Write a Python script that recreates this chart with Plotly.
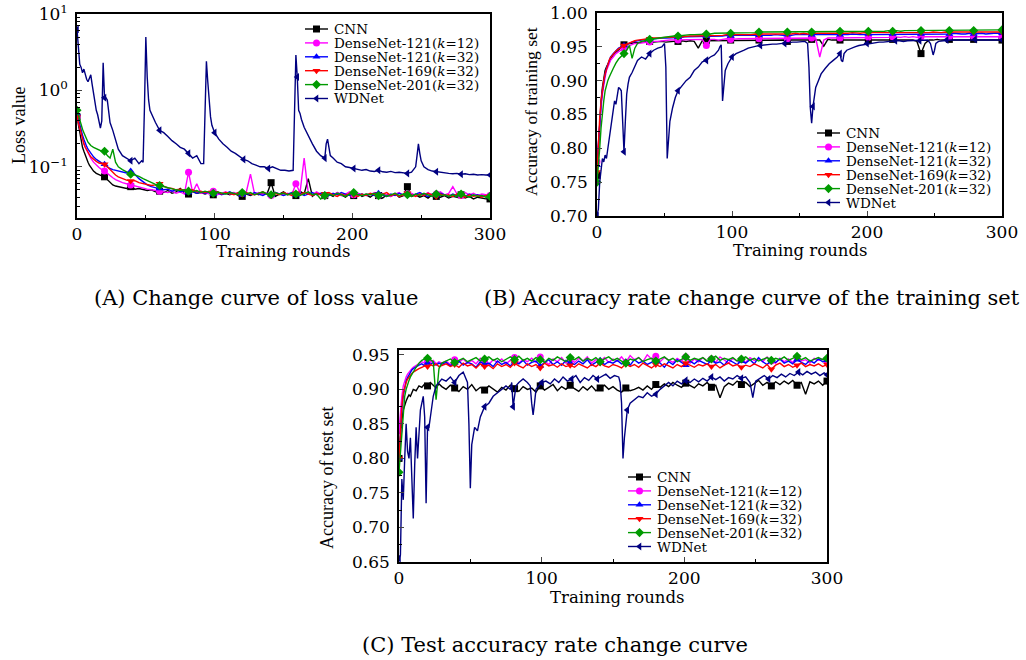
import plotly.graph_objects as go

# ---------------- shared x grid (training rounds) ----------------
ROUNDS = [0, 1, 2, 3, 4, 5, 6, 7, 8, 9, 10, 12, 14, 16, 18, 20, 22, 24, 26, 28, 30] + list(range(33, 301, 3))

NAMES = ["CNN", "DenseNet-121(<i>k</i>=12)", "DenseNet-121(<i>k</i>=32)",
         "DenseNet-169(<i>k</i>=32)", "DenseNet-201(<i>k</i>=32)", "WDNet"]

# ---------------- (A) loss value ----------------
cnn_loss = [0.45, 0.36, 0.28, 0.22, 0.18, 0.16, 0.14, 0.125, 0.115, 0.105, 0.098, 0.088, 0.082, 0.078, 0.076, 0.074, 0.068, 0.062, 0.058, 0.056, 0.055,
            0.053, 0.052, 0.055, 0.051, 0.052, 0.050, 0.049, 0.050, 0.047, 0.048,
            0.046, 0.049, 0.045, 0.047, 0.052, 0.046, 0.044, 0.047, 0.045, 0.046,
            0.044, 0.046, 0.043, 0.047, 0.044, 0.045, 0.043, 0.046, 0.042, 0.041,
            0.044, 0.042, 0.045, 0.043, 0.046, 0.044, 0.062, 0.041, 0.044, 0.047,
            0.043, 0.045, 0.042, 0.048, 0.044, 0.070, 0.041, 0.045, 0.043, 0.042,
            0.044, 0.041, 0.046, 0.043, 0.040, 0.044, 0.042, 0.045, 0.041, 0.043,
            0.040, 0.044, 0.042, 0.039, 0.043, 0.041, 0.045, 0.040, 0.042, 0.055,
            0.041, 0.043, 0.040, 0.042, 0.039, 0.043, 0.041, 0.040, 0.042, 0.039,
            0.041, 0.040, 0.043, 0.039, 0.041, 0.038, 0.040, 0.039, 0.038, 0.038]
d121k12_loss = [0.45, 0.38, 0.32, 0.27, 0.23, 0.2, 0.18, 0.165, 0.15, 0.14, 0.13, 0.115, 0.105, 0.098, 0.092, 0.088, 0.082, 0.076, 0.072, 0.068, 0.065,
                0.062, 0.06, 0.058, 0.056, 0.054, 0.053, 0.051, 0.05, 0.049, 0.048,
                0.047, 0.046, 0.048, 0.045, 0.047, 0.044, 0.085, 0.046, 0.06, 0.045,
                0.046, 0.044, 0.048, 0.043, 0.045, 0.047, 0.044, 0.046, 0.043, 0.045,
                0.047, 0.08, 0.044, 0.046, 0.043, 0.045, 0.042, 0.046, 0.044, 0.043,
                0.045, 0.043, 0.06, 0.046, 0.13, 0.045, 0.043, 0.047, 0.044, 0.042,
                0.045, 0.043, 0.046, 0.042, 0.044, 0.047, 0.043, 0.045, 0.042, 0.044,
                0.043, 0.046, 0.042, 0.045, 0.043, 0.041, 0.044, 0.046, 0.042, 0.044,
                0.045, 0.042, 0.044, 0.043, 0.046, 0.042, 0.044, 0.047, 0.043, 0.045,
                0.055, 0.044, 0.042, 0.046, 0.043, 0.045, 0.042, 0.044, 0.043, 0.042]
d121k32_loss = [0.5, 0.42, 0.35, 0.3, 0.26, 0.23, 0.2, 0.185, 0.17, 0.16, 0.15, 0.135, 0.125, 0.118, 0.112, 0.108, 0.1, 0.095, 0.092, 0.09, 0.088,
                0.085, 0.083, 0.088, 0.08, 0.07, 0.063, 0.058, 0.055, 0.053, 0.052,
                0.05, 0.051, 0.048, 0.05, 0.047, 0.049, 0.046, 0.048, 0.045, 0.047,
                0.045, 0.047, 0.044, 0.046, 0.043, 0.045, 0.047, 0.044, 0.045, 0.043,
                0.045, 0.043, 0.046, 0.044, 0.042, 0.045, 0.043, 0.046, 0.044, 0.042,
                0.044, 0.046, 0.043, 0.045, 0.042, 0.044, 0.046, 0.043, 0.045, 0.043,
                0.042, 0.045, 0.043, 0.046, 0.044, 0.042, 0.045, 0.043, 0.044, 0.042,
                0.044, 0.042, 0.045, 0.043, 0.041, 0.044, 0.042, 0.045, 0.043, 0.044,
                0.042, 0.044, 0.046, 0.043, 0.041, 0.044, 0.042, 0.045, 0.043, 0.041,
                0.044, 0.042, 0.043, 0.041, 0.044, 0.042, 0.043, 0.041, 0.042, 0.042]
d169_loss = [0.45, 0.38, 0.32, 0.27, 0.23, 0.2, 0.18, 0.165, 0.155, 0.145, 0.135, 0.125, 0.118, 0.112, 0.11, 0.108, 0.1, 0.092, 0.085, 0.078, 0.074,
             0.07, 0.067, 0.065, 0.066, 0.062, 0.06, 0.058, 0.057, 0.058, 0.06,
             0.056, 0.053, 0.052, 0.05, 0.051, 0.049, 0.048, 0.05, 0.047, 0.048,
             0.046, 0.048, 0.045, 0.047, 0.044, 0.046, 0.045, 0.043, 0.046, 0.044,
             0.046, 0.044, 0.043, 0.045, 0.047, 0.044, 0.042, 0.045, 0.043, 0.046,
             0.044, 0.042, 0.045, 0.043, 0.046, 0.044, 0.042, 0.045, 0.043, 0.044,
             0.046, 0.043, 0.041, 0.044, 0.042, 0.045, 0.043, 0.041, 0.044, 0.042,
             0.045, 0.043, 0.042, 0.044, 0.046, 0.042, 0.044, 0.041, 0.043, 0.045,
             0.043, 0.041, 0.044, 0.042, 0.045, 0.043, 0.041, 0.044, 0.042, 0.043,
             0.041, 0.044, 0.042, 0.04, 0.043, 0.041, 0.042, 0.04, 0.042, 0.041]
d201_loss = [0.55, 0.47, 0.4, 0.35, 0.31, 0.28, 0.25, 0.23, 0.21, 0.2, 0.19, 0.18, 0.172, 0.165, 0.16, 0.16, 0.14, 0.13, 0.17, 0.115, 0.1,
             0.092, 0.085, 0.08, 0.078, 0.075, 0.07, 0.066, 0.062, 0.059, 0.057,
             0.055, 0.053, 0.052, 0.05, 0.049, 0.05, 0.048, 0.047, 0.049, 0.046,
             0.048, 0.046, 0.045, 0.047, 0.045, 0.044, 0.046, 0.045, 0.043, 0.046,
             0.044, 0.046, 0.043, 0.045, 0.047, 0.044, 0.043, 0.046, 0.044, 0.045,
             0.043, 0.045, 0.044, 0.042, 0.045, 0.047, 0.043, 0.044, 0.038, 0.042,
             0.044, 0.042, 0.045, 0.043, 0.041, 0.044, 0.046, 0.043, 0.042, 0.044,
             0.043, 0.045, 0.042, 0.044, 0.041, 0.043, 0.045, 0.042, 0.044, 0.043,
             0.041, 0.044, 0.042, 0.045, 0.043, 0.041, 0.044, 0.042, 0.043, 0.041,
             0.043, 0.041, 0.044, 0.042, 0.04, 0.043, 0.041, 0.042, 0.04, 0.041]
# WDNet (round, loss)
wdnet_loss = [(0, 6.3), (1, 4.0), (2, 2.2), (3, 2.0), (4, 1.7), (5, 1.9), (6, 1.6), (7, 1.4), (8, 1.3), (9, 1.5), (10, 1.6),
              (11, 1.2), (12, 0.9), (13, 0.7), (14, 0.55), (15, 0.48), (16, 0.38), (17, 0.32), (18, 0.4), (19, 2.3), (20, 0.8),
              (21, 0.8), (22, 0.75), (23, 0.5), (24, 0.38), (26, 0.3), (28, 0.22), (30, 0.17), (33, 0.14), (36, 0.13), (39, 0.12),
              (42, 0.13), (45, 0.11), (47, 0.12), (48, 0.115), (49, 0.6), (50, 5.0), (51, 1.5), (52, 0.75), (53, 0.55), (55, 0.45),
              (57, 0.38), (60, 0.3), (63, 0.28), (66, 0.25), (69, 0.22), (72, 0.2), (75, 0.18), (78, 0.17), (81, 0.15), (84, 0.13),
              (87, 0.14), (90, 0.11), (92, 0.11), (93, 0.4), (94, 2.4), (95, 1.3), (96, 0.7), (97, 0.45), (98, 0.35), (100, 0.28),
              (103, 0.23), (106, 0.2), (109, 0.18), (112, 0.16), (115, 0.15), (118, 0.135), (121, 0.125), (124, 0.12), (127, 0.11),
              (130, 0.105), (133, 0.1), (136, 0.1), (139, 0.095), (142, 0.1), (145, 0.095), (148, 0.09), (151, 0.09), (154, 0.088),
              (157, 0.09), (158, 0.4), (159, 2.9), (160, 1.5), (161, 0.55), (162, 0.5), (163, 0.42), (165, 0.33), (168, 0.25),
              (171, 0.2), (174, 0.16), (177, 0.14), (180, 0.13), (181, 0.2), (182, 0.23), (183, 0.17), (184, 0.14), (186, 0.13),
              (189, 0.115), (192, 0.11), (195, 0.1), (198, 0.098), (201, 0.095), (204, 0.092), (207, 0.09), (210, 0.092),
              (213, 0.088), (216, 0.087), (219, 0.09), (222, 0.086), (225, 0.085), (228, 0.087), (231, 0.084), (234, 0.085),
              (237, 0.083), (240, 0.082), (243, 0.085), (246, 0.1), (247, 0.14), (248, 0.2), (249, 0.15), (250, 0.12), (252, 0.1),
              (255, 0.092), (258, 0.088), (261, 0.086), (264, 0.084), (267, 0.083), (270, 0.082), (273, 0.081), (276, 0.082),
              (279, 0.08), (282, 0.081), (285, 0.079), (288, 0.08), (291, 0.078), (294, 0.079), (297, 0.078), (300, 0.078)]

# ---------------- (B) training-set accuracy ----------------
cnn_train = [0.76, 0.8, 0.84, 0.87, 0.89, 0.905, 0.915, 0.92, 0.925, 0.93, 0.932, 0.938, 0.942, 0.946, 0.95, 0.953, 0.954, 0.955, 0.955, 0.956, 0.956,
             0.957, 0.957, 0.958, 0.957, 0.958, 0.958, 0.957, 0.958, 0.958, 0.958,
             0.959, 0.958, 0.959, 0.958, 0.948, 0.959, 0.959, 0.96, 0.959, 0.96,
             0.96, 0.959, 0.96, 0.96, 0.959, 0.96, 0.96, 0.96, 0.96, 0.96,
             0.96, 0.96, 0.959, 0.96, 0.96, 0.96, 0.958, 0.96, 0.96, 0.96,
             0.96, 0.96, 0.961, 0.96, 0.96, 0.951, 0.961, 0.96, 0.96, 0.96,
             0.96, 0.961, 0.96, 0.96, 0.96, 0.961, 0.96, 0.96, 0.96, 0.961,
             0.96, 0.96, 0.961, 0.96, 0.96, 0.961, 0.96, 0.96, 0.958, 0.94,
             0.955, 0.96, 0.96, 0.961, 0.96, 0.96, 0.961, 0.96, 0.96, 0.961,
             0.96, 0.96, 0.961, 0.96, 0.96, 0.961, 0.96, 0.96, 0.96, 0.96]
d121k12_train = [0.78, 0.81, 0.84, 0.86, 0.88, 0.895, 0.905, 0.915, 0.92, 0.925, 0.93, 0.935, 0.94, 0.943, 0.946, 0.948, 0.95, 0.952, 0.954, 0.955, 0.955,
                 0.956, 0.957, 0.957, 0.958, 0.958, 0.959, 0.959, 0.96, 0.96, 0.96,
                 0.96, 0.961, 0.96, 0.961, 0.961, 0.961, 0.952, 0.961, 0.961, 0.96,
                 0.961, 0.962, 0.961, 0.962, 0.962, 0.962, 0.962, 0.962, 0.963, 0.962,
                 0.962, 0.963, 0.962, 0.963, 0.963, 0.963, 0.962, 0.963, 0.963, 0.963,
                 0.963, 0.963, 0.963, 0.963, 0.935, 0.96, 0.963, 0.963, 0.964, 0.963,
                 0.964, 0.963, 0.964, 0.964, 0.964, 0.963, 0.964, 0.964, 0.964, 0.964,
                 0.964, 0.964, 0.965, 0.964, 0.964, 0.965, 0.964, 0.965, 0.964, 0.965,
                 0.965, 0.964, 0.965, 0.965, 0.964, 0.965, 0.965, 0.965, 0.964, 0.965,
                 0.965, 0.965, 0.965, 0.965, 0.965, 0.965, 0.965, 0.965, 0.965, 0.965]
d121k32_train = [0.775, 0.81, 0.84, 0.865, 0.885, 0.9, 0.91, 0.918, 0.925, 0.93, 0.935, 0.94, 0.944, 0.948, 0.95, 0.952, 0.954, 0.956, 0.957, 0.958, 0.959,
                 0.96, 0.961, 0.961, 0.962, 0.962, 0.963, 0.963, 0.963, 0.964, 0.964,
                 0.964, 0.965, 0.965, 0.965, 0.966, 0.965, 0.966, 0.966, 0.966, 0.966,
                 0.966, 0.967, 0.966, 0.967, 0.967, 0.966, 0.967, 0.967, 0.967, 0.967,
                 0.967, 0.967, 0.967, 0.968, 0.967, 0.967, 0.968, 0.967, 0.968, 0.968,
                 0.968, 0.967, 0.968, 0.968, 0.968, 0.968, 0.967, 0.968, 0.968, 0.968,
                 0.968, 0.968, 0.969, 0.968, 0.968, 0.968, 0.969, 0.968, 0.968, 0.969,
                 0.969, 0.968, 0.969, 0.969, 0.968, 0.969, 0.969, 0.969, 0.968, 0.969,
                 0.969, 0.969, 0.969, 0.969, 0.969, 0.969, 0.969, 0.97, 0.969, 0.969,
                 0.969, 0.97, 0.969, 0.97, 0.97, 0.969, 0.97, 0.97, 0.97, 0.97]
d169_train = [0.765, 0.81, 0.845, 0.87, 0.89, 0.9, 0.91, 0.918, 0.924, 0.93, 0.934, 0.94, 0.944, 0.947, 0.95, 0.952, 0.954, 0.956, 0.958, 0.959, 0.96,
              0.961, 0.962, 0.962, 0.963, 0.963, 0.964, 0.964, 0.964, 0.965, 0.965,
              0.965, 0.966, 0.966, 0.966, 0.966, 0.967, 0.967, 0.967, 0.967, 0.967,
              0.967, 0.968, 0.968, 0.967, 0.968, 0.968, 0.968, 0.968, 0.969, 0.968,
              0.969, 0.969, 0.968, 0.969, 0.969, 0.969, 0.969, 0.969, 0.97, 0.969,
              0.97, 0.969, 0.97, 0.97, 0.97, 0.969, 0.97, 0.97, 0.97, 0.97,
              0.97, 0.97, 0.971, 0.97, 0.97, 0.971, 0.97, 0.971, 0.971, 0.97,
              0.971, 0.971, 0.971, 0.971, 0.97, 0.971, 0.971, 0.971, 0.971, 0.971,
              0.971, 0.971, 0.972, 0.971, 0.971, 0.972, 0.971, 0.972, 0.972, 0.971,
              0.972, 0.972, 0.971, 0.972, 0.972, 0.972, 0.972, 0.972, 0.972, 0.972]
d201_train = [0.75, 0.77, 0.8, 0.83, 0.855, 0.87, 0.885, 0.895, 0.9, 0.905, 0.91, 0.918, 0.926, 0.932, 0.936, 0.94, 0.945, 0.952, 0.933, 0.948, 0.955,
              0.958, 0.96, 0.961, 0.962, 0.963, 0.964, 0.964, 0.965, 0.966, 0.966,
              0.967, 0.967, 0.968, 0.968, 0.968, 0.969, 0.969, 0.969, 0.97, 0.97,
              0.97, 0.97, 0.97, 0.971, 0.971, 0.971, 0.971, 0.971, 0.971, 0.972,
              0.972, 0.972, 0.972, 0.972, 0.972, 0.972, 0.972, 0.972, 0.972, 0.972,
              0.972, 0.973, 0.972, 0.973, 0.972, 0.973, 0.973, 0.973, 0.973, 0.973,
              0.973, 0.973, 0.973, 0.973, 0.973, 0.973, 0.973, 0.973, 0.973, 0.973,
              0.973, 0.974, 0.973, 0.974, 0.973, 0.974, 0.974, 0.974, 0.974, 0.974,
              0.974, 0.974, 0.974, 0.974, 0.974, 0.974, 0.974, 0.974, 0.974, 0.975,
              0.974, 0.975, 0.974, 0.975, 0.975, 0.975, 0.975, 0.975, 0.975, 0.975]
wdnet_train = [(0, 0.70), (1, 0.71), (2, 0.75), (3, 0.77), (4, 0.785), (5, 0.78), (6, 0.79), (7, 0.785), (8, 0.80), (9, 0.815),
               (10, 0.83), (11, 0.84), (12, 0.855), (13, 0.87), (14, 0.865), (15, 0.875), (16, 0.89), (17, 0.888), (18, 0.885),
               (19, 0.84), (20, 0.795), (21, 0.84), (22, 0.88), (23, 0.895), (24, 0.905), (26, 0.912), (28, 0.92), (30, 0.93),
               (33, 0.935), (36, 0.932), (39, 0.94), (42, 0.945), (45, 0.948), (48, 0.95), (50, 0.955), (51, 0.92), (52, 0.785),
               (53, 0.81), (54, 0.84), (56, 0.86), (58, 0.875), (60, 0.885), (63, 0.893), (66, 0.9), (69, 0.905), (72, 0.915),
               (75, 0.92), (78, 0.928), (81, 0.93), (84, 0.935), (87, 0.938), (90, 0.945), (91, 0.95), (92, 0.953), (93, 0.87),
               (94, 0.9), (95, 0.915), (97, 0.925), (100, 0.935), (103, 0.94), (106, 0.942), (109, 0.945), (112, 0.948),
               (115, 0.95), (118, 0.951), (121, 0.952), (124, 0.953), (127, 0.953), (130, 0.954), (133, 0.954), (136, 0.955),
               (139, 0.955), (142, 0.956), (145, 0.957), (148, 0.957), (151, 0.958), (154, 0.958), (156, 0.955), (157, 0.92),
               (158, 0.86), (159, 0.837), (160, 0.862), (161, 0.875), (162, 0.89), (164, 0.9), (166, 0.91), (169, 0.918),
               (172, 0.925), (175, 0.93), (178, 0.935), (180, 0.94), (181, 0.93), (182, 0.928), (183, 0.94), (185, 0.945),
               (188, 0.948), (191, 0.95), (194, 0.952), (197, 0.953), (200, 0.955), (203, 0.956), (206, 0.956), (209, 0.957),
               (212, 0.957), (215, 0.958), (218, 0.958), (221, 0.959), (224, 0.959), (227, 0.958), (230, 0.959), (233, 0.959),
               (236, 0.96), (239, 0.959), (242, 0.96), (245, 0.96), (247, 0.955), (248, 0.945), (249, 0.938), (250, 0.945),
               (251, 0.955), (253, 0.958), (256, 0.959), (259, 0.96), (262, 0.96), (265, 0.96), (268, 0.96), (271, 0.96),
               (274, 0.961), (277, 0.96), (280, 0.961), (283, 0.96), (286, 0.961), (289, 0.96), (292, 0.96), (295, 0.96),
               (298, 0.96), (300, 0.96)]

# ---------------- (C) test-set accuracy ----------------
cnn_test = [0.80, 0.83, 0.855, 0.87, 0.878, 0.883, 0.888, 0.892, 0.89, 0.896, 0.9, 0.898, 0.905, 0.903, 0.908, 0.905, 0.91, 0.906, 0.902, 0.908, 0.904,
            0.9, 0.906, 0.902, 0.897, 0.904, 0.9, 0.907, 0.898, 0.903, 0.899,
            0.905, 0.9, 0.896, 0.903, 0.899, 0.906, 0.901, 0.897, 0.904, 0.9,
            0.902, 0.896, 0.905, 0.899, 0.903, 0.907, 0.898, 0.904, 0.9, 0.906,
            0.901, 0.897, 0.904, 0.899, 0.905, 0.898, 0.902, 0.906, 0.9, 0.904,
            0.899, 0.896, 0.902, 0.898, 0.9, 0.903, 0.899, 0.905, 0.9, 0.907,
            0.903, 0.908, 0.904, 0.91, 0.906, 0.903, 0.909, 0.905, 0.902, 0.908,
            0.905, 0.91, 0.903, 0.906, 0.888, 0.904, 0.909, 0.906, 0.912, 0.907,
            0.91, 0.904, 0.909, 0.913, 0.906, 0.91, 0.905, 0.911, 0.907, 0.912,
            0.908, 0.913, 0.906, 0.91, 0.893, 0.911, 0.908, 0.912, 0.906, 0.912]
d121k12_test = [0.84, 0.87, 0.89, 0.905, 0.913, 0.918, 0.922, 0.925, 0.928, 0.93, 0.932, 0.935, 0.937, 0.94, 0.938, 0.941, 0.939, 0.942, 0.937, 0.94, 0.938,
                0.941, 0.936, 0.943, 0.939, 0.944, 0.938, 0.942, 0.937, 0.945, 0.94,
                0.936, 0.943, 0.939, 0.944, 0.937, 0.942, 0.946, 0.938, 0.943, 0.94,
                0.945, 0.939, 0.947, 0.941, 0.936, 0.944, 0.94, 0.946, 0.938, 0.943,
                0.939, 0.945, 0.941, 0.947, 0.938, 0.943, 0.94, 0.946, 0.939, 0.944,
                0.941, 0.947, 0.939, 0.949, 0.943, 0.946, 0.94, 0.95, 0.944, 0.948,
                0.94, 0.946, 0.942, 0.939, 0.945, 0.941, 0.947, 0.938, 0.944, 0.94,
                0.946, 0.941, 0.944, 0.939, 0.947, 0.942, 0.938, 0.945, 0.941, 0.943,
                0.939, 0.946, 0.942, 0.944, 0.94, 0.947, 0.941, 0.938, 0.945, 0.94,
                0.944, 0.939, 0.946, 0.941, 0.943, 0.938, 0.945, 0.942, 0.944, 0.941]
d121k32_test = [0.80, 0.84, 0.87, 0.89, 0.905, 0.912, 0.917, 0.921, 0.925, 0.928, 0.93, 0.933, 0.935, 0.937, 0.934, 0.938, 0.936, 0.939, 0.935, 0.938, 0.936,
                0.939, 0.934, 0.938, 0.941, 0.935, 0.939, 0.937, 0.932, 0.94, 0.936,
                0.938, 0.933, 0.941, 0.936, 0.939, 0.934, 0.94, 0.937, 0.942, 0.935,
                0.939, 0.941, 0.934, 0.938, 0.943, 0.936, 0.94, 0.935, 0.942, 0.938,
                0.936, 0.941, 0.937, 0.943, 0.935, 0.939, 0.942, 0.936, 0.94, 0.938,
                0.942, 0.937, 0.94, 0.935, 0.943, 0.938, 0.941, 0.936, 0.939, 0.942,
                0.938, 0.932, 0.94, 0.936, 0.943, 0.939, 0.935, 0.941, 0.937, 0.942,
                0.939, 0.936, 0.942, 0.938, 0.94, 0.935, 0.943, 0.939, 0.936, 0.941,
                0.938, 0.943, 0.937, 0.946, 0.94, 0.936, 0.942, 0.939, 0.944, 0.938,
                0.941, 0.937, 0.943, 0.939, 0.936, 0.942, 0.938, 0.944, 0.94, 0.942]
d169_test = [0.80, 0.845, 0.875, 0.895, 0.905, 0.91, 0.915, 0.918, 0.92, 0.923, 0.925, 0.928, 0.93, 0.932, 0.934, 0.933, 0.936, 0.934, 0.937, 0.933, 0.935,
             0.937, 0.933, 0.936, 0.932, 0.938, 0.934, 0.936, 0.931, 0.937, 0.933,
             0.935, 0.93, 0.937, 0.933, 0.936, 0.932, 0.938, 0.934, 0.931, 0.937,
             0.933, 0.936, 0.931, 0.938, 0.934, 0.936, 0.932, 0.937, 0.933, 0.935,
             0.932, 0.937, 0.934, 0.931, 0.936, 0.933, 0.938, 0.934, 0.932, 0.936,
             0.934, 0.931, 0.937, 0.933, 0.936, 0.932, 0.938, 0.934, 0.931, 0.936,
             0.933, 0.937, 0.934, 0.931, 0.936, 0.933, 0.938, 0.935, 0.932, 0.936,
             0.934, 0.937, 0.933, 0.936, 0.931, 0.935, 0.938, 0.934, 0.936, 0.932,
             0.935, 0.933, 0.937, 0.934, 0.931, 0.936, 0.929, 0.935, 0.938, 0.933,
             0.936, 0.932, 0.935, 0.938, 0.933, 0.936, 0.934, 0.937, 0.933, 0.936]
d201_test = [0.78, 0.81, 0.845, 0.87, 0.89, 0.9, 0.908, 0.913, 0.918, 0.922, 0.925, 0.932, 0.938, 0.942, 0.944, 0.945, 0.943, 0.94, 0.885, 0.93, 0.938,
             0.941, 0.944, 0.939, 0.942, 0.945, 0.94, 0.943, 0.946, 0.941, 0.944,
             0.947, 0.942, 0.945, 0.94, 0.944, 0.947, 0.943, 0.948, 0.942, 0.945,
             0.941, 0.946, 0.943, 0.939, 0.945, 0.942, 0.947, 0.943, 0.94, 0.946,
             0.943, 0.947, 0.941, 0.945, 0.942, 0.946, 0.94, 0.944, 0.947, 0.942,
             0.945, 0.941, 0.938, 0.944, 0.942, 0.946, 0.94, 0.943, 0.945, 0.941,
             0.944, 0.947, 0.942, 0.945, 0.94, 0.944, 0.947, 0.942, 0.945, 0.943,
             0.946, 0.941, 0.944, 0.948, 0.942, 0.945, 0.943, 0.946, 0.941, 0.944,
             0.947, 0.942, 0.945, 0.941, 0.944, 0.946, 0.942, 0.945, 0.943, 0.947,
             0.942, 0.945, 0.948, 0.943, 0.946, 0.941, 0.944, 0.946, 0.943, 0.945]
wdnet_test = [(0, 0.655), (1, 0.66), (2, 0.77), (3, 0.74), (4, 0.80), (5, 0.85), (6, 0.81), (7, 0.80), (8, 0.83), (9, 0.76),
              (10, 0.713), (11, 0.79), (12, 0.845), (13, 0.80), (14, 0.835), (15, 0.87), (16, 0.88), (17, 0.89), (18, 0.86),
              (19, 0.735), (20, 0.845), (21, 0.845), (22, 0.86), (23, 0.875), (24, 0.89), (26, 0.905), (28, 0.91), (30, 0.915),
              (33, 0.912), (36, 0.918), (39, 0.91), (42, 0.92), (45, 0.925), (47, 0.915), (48, 0.91), (49, 0.85), (50, 0.757),
              (51, 0.82), (52, 0.83), (53, 0.845), (55, 0.84), (57, 0.86), (60, 0.875), (63, 0.88), (66, 0.89), (69, 0.895),
              (72, 0.9), (75, 0.905), (78, 0.9), (79, 0.91), (80, 0.875), (81, 0.895), (82, 0.905), (84, 0.91), (87, 0.915),
              (90, 0.91), (92, 0.905), (93, 0.88), (94, 0.863), (95, 0.88), (96, 0.9), (98, 0.905), (100, 0.91), (103, 0.912),
              (106, 0.908), (109, 0.915), (112, 0.91), (115, 0.918), (118, 0.912), (121, 0.915), (124, 0.92), (127, 0.91),
              (130, 0.917), (133, 0.913), (136, 0.92), (139, 0.915), (142, 0.918), (145, 0.922), (148, 0.916), (151, 0.92),
              (154, 0.918), (155, 0.91), (156, 0.88), (157, 0.80), (158, 0.83), (159, 0.855), (160, 0.87), (162, 0.88),
              (165, 0.885), (168, 0.89), (171, 0.888), (174, 0.895), (177, 0.89), (180, 0.893), (183, 0.9), (186, 0.905),
              (189, 0.91), (192, 0.905), (195, 0.912), (198, 0.908), (201, 0.913), (204, 0.91), (207, 0.915), (210, 0.911),
              (213, 0.916), (216, 0.912), (219, 0.918), (222, 0.914), (225, 0.918), (228, 0.912), (231, 0.917), (234, 0.915),
              (237, 0.92), (240, 0.916), (243, 0.918), (246, 0.91), (247, 0.9), (248, 0.888), (249, 0.9), (250, 0.912),
              (253, 0.916), (256, 0.92), (259, 0.915), (262, 0.92), (265, 0.917), (268, 0.922), (271, 0.918), (274, 0.923),
              (277, 0.92), (280, 0.925), (283, 0.921), (286, 0.926), (289, 0.922), (292, 0.925), (295, 0.92), (298, 0.924),
              (300, 0.921)]

MARK_ROUNDS = [0, 20, 40, 60, 80, 100, 120, 140, 160, 180, 200, 220, 240, 260, 280, 300]

# ---------------- styles ----------------
COLORS = ["#000000", "#FF00FF", "#0000FF", "#FF0000", "#009A00", "#000080"]
SYMBOLS = ["square", "circle", "triangle-up", "triangle-down", "diamond", "triangle-left"]
FONT = "DejaVu Serif, Liberation Serif, serif"
FONT_V = "Liberation Serif, Times New Roman, serif"
W, H = 1026, 660


def px_x(p):
    return p / W


def px_y(p):
    return 1 - p / H


fig = go.Figure()


def add_panel(series, axis_suffix):
    xa = "x" + axis_suffix
    ya = "y" + axis_suffix
    for i, (xs, ys) in enumerate(series):
        assert len(xs) == len(ys), (axis_suffix, i, len(xs), len(ys))
        fig.add_trace(go.Scatter(x=xs, y=ys, mode="lines", xaxis=xa, yaxis=ya,
                                 line=dict(color=COLORS[i], width=1.4), showlegend=False,
                                 hoverinfo="skip"))
        mi = []
        for m in MARK_ROUNDS:
            j = min(range(len(xs)), key=lambda k: abs(xs[k] - m))
            mi.append(j)
        fig.add_trace(go.Scatter(x=[xs[j] for j in mi], y=[ys[j] for j in mi], mode="markers",
                                 xaxis=xa, yaxis=ya, showlegend=False, hoverinfo="skip",
                                 marker=dict(symbol=SYMBOLS[i], color=COLORS[i], size=7,
                                             line=dict(width=0))))


def split(pairs):
    return [p[0] for p in pairs], [p[1] for p in pairs]


add_panel([(ROUNDS, cnn_loss), (ROUNDS, d121k12_loss), (ROUNDS, d121k32_loss),
           (ROUNDS, d169_loss), (ROUNDS, d201_loss), split(wdnet_loss)], "")
add_panel([(ROUNDS, cnn_train), (ROUNDS, d121k12_train), (ROUNDS, d121k32_train),
           (ROUNDS, d169_train), (ROUNDS, d201_train), split(wdnet_train)], "2")
add_panel([(ROUNDS, cnn_test), (ROUNDS, d121k12_test), (ROUNDS, d121k32_test),
           (ROUNDS, d169_test), (ROUNDS, d201_test), split(wdnet_test)], "3")

# ---------------- compact legends (drawn on a pixel-space overlay axis) ----------------
LEGENDS = [  # (line start px, first row y px, row spacing px)
    (305, 29, 13.9),
    (817, 133, 13.9),
    (628, 477, 13.9),
]
ann = []
for (lx, ly, dy) in LEGENDS:
    for i, name in enumerate(NAMES):
        yy = ly + i * dy
        fig.add_trace(go.Scatter(x=[lx, lx + 23], y=[yy, yy], mode="lines", xaxis="x4", yaxis="y4",
                                 line=dict(color=COLORS[i], width=1.4), showlegend=False,
                                 hoverinfo="skip"))
        fig.add_trace(go.Scatter(x=[lx + 11.5], y=[yy], mode="markers", xaxis="x4", yaxis="y4",
                                 marker=dict(symbol=SYMBOLS[i], color=COLORS[i], size=7, line=dict(width=0)),
                                 showlegend=False, hoverinfo="skip"))
        ann.append(dict(text=name, x=px_x(lx + 27), y=px_y(yy), xref="paper", yref="paper",
                        showarrow=False, xanchor="left", yanchor="middle",
                        font=dict(family=FONT, size=13.5, color="black")))

tickfont = dict(family=FONT, size=17, color="black")
common_x = dict(range=[0, 300], dtick=100, tick0=0, ticks="inside", ticklen=5, tickwidth=1,
                showline=True, linecolor="black", linewidth=1.5, mirror=True, showgrid=False,
                zeroline=False, tickfont=tickfont, automargin=False,
                minor=dict(dtick=50, ticks="inside", ticklen=3, tickcolor="black", showgrid=False))
common_y = dict(ticks="inside", ticklen=5, tickwidth=1, showline=True, linecolor="black",
                linewidth=1.5, mirror=True, showgrid=False, zeroline=False, tickfont=tickfont,
                automargin=False, ticklabelstandoff=4)

fig.update_layout(
    width=W, height=H, autosize=False, margin=dict(l=0, r=0, t=0, b=0, pad=0, autoexpand=False),
    paper_bgcolor="white", plot_bgcolor="rgba(0,0,0,0)",
    font=dict(family=FONT, color="black"), showlegend=False,
    xaxis=dict(domain=[px_x(77), px_x(490)], anchor="y", **common_x),
    yaxis=dict(domain=[px_y(218), px_y(14)], anchor="x", type="log", range=[-1.67, 1.0],
               tickvals=[0.1, 1, 10],
               ticktext=["10<sup>\u22121</sup>", "10<sup>0</sup>", "10<sup>1</sup>"],
               minor=dict(ticks="inside", ticklen=3, tickcolor="black", dtick="D1", showgrid=False),
               **common_y),
    xaxis2=dict(domain=[px_x(597), px_x(1002)], anchor="y2", **common_x),
    yaxis2=dict(domain=[px_y(216), px_y(13)], anchor="x2", range=[0.70, 1.00], dtick=0.05,
                tickformat=".2f",
                minor=dict(dtick=0.025, ticks="inside", ticklen=3, tickcolor="black", showgrid=False),
                **common_y),
    xaxis3=dict(domain=[px_x(399), px_x(827)], anchor="y3", **common_x),
    yaxis3=dict(domain=[px_y(562), px_y(350)], anchor="x3", range=[0.65, 0.957], dtick=0.05,
                tick0=0.65, tickformat=".2f",
                minor=dict(dtick=0.025, ticks="inside", ticklen=3, tickcolor="black", showgrid=False),
                **common_y),
    xaxis4=dict(domain=[0, 1], anchor="y4", range=[0, W], visible=False, fixedrange=True),
    yaxis4=dict(domain=[0, 1], anchor="x4", range=[H, 0], visible=False, fixedrange=True),
)


def text(t, xp, yp, size, angle=0, family=FONT):
    ann.append(dict(text=t, x=px_x(xp), y=px_y(yp), xref="paper", yref="paper",
                    showarrow=False, xanchor="center", yanchor="middle", textangle=angle,
                    font=dict(family=family, size=size, color="black")))


text("Loss value", 19, 126, 18, -90, FONT_V)
text("Training rounds", 283, 251, 16.5)
text("Accuracy of training set", 531, 112, 17.5, -90, FONT_V)
text("Training rounds", 800, 250, 16.5)
text("Accuracy of test set", 327, 478, 18, -90, FONT_V)
text("Training rounds", 617, 597, 16.5)
text("(A) Change curve of loss value", 256, 298, 21)
text("(B) Accuracy rate change curve of the training set", 752, 298, 21)
text("(C) Test accuracy rate change curve", 555, 645, 21)
fig.update_layout(annotations=ann)

fig.write_html("out.html",
               config={"displayModeBar": False},
               post_script="document.body.style.margin='0';"
                           "document.documentElement.style.overflow='hidden';"
                           "document.body.style.overflow='hidden';")
